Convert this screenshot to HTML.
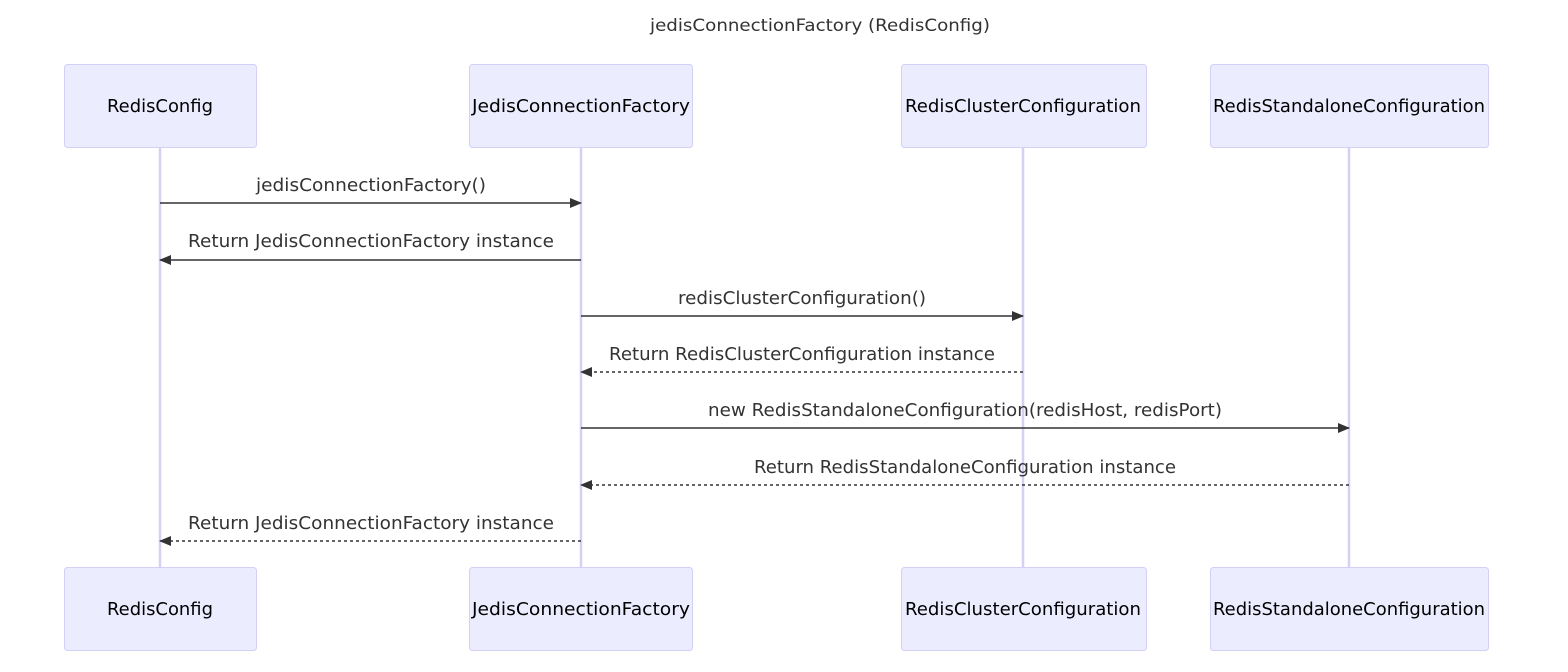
<!DOCTYPE html>
<html><head><meta charset="utf-8"><style>html,body{margin:0;padding:0;background:#fff}svg{display:block}</style></head>
<body>
<svg width="1568" height="672" viewBox="0 0 1568 672" xmlns="http://www.w3.org/2000/svg" font-family="'DejaVu Sans','Liberation Sans',sans-serif">
<defs>
<marker id="a" markerWidth="12" markerHeight="12" refX="11" refY="6" orient="auto" markerUnits="userSpaceOnUse"><path d="M0,1 L12,6 L0,11 Z" fill="#333"/></marker>
</defs>
<text x="820" y="31" text-anchor="middle" font-size="16.5" fill="#333" textLength="340" lengthAdjust="spacingAndGlyphs">jedisConnectionFactory (RedisConfig)</text>
<g stroke="#d6d0f5" stroke-width="2.5">
<line x1="160" y1="147" x2="160" y2="567"/>
<line x1="581" y1="147" x2="581" y2="567"/>
<line x1="1023" y1="147" x2="1023" y2="567"/>
<line x1="1349" y1="147" x2="1349" y2="567"/>
</g>
<g fill="#ececff" stroke="#d3cff5" stroke-width="1">
<rect x="64.5" y="64.5" width="192" height="83" rx="3"/>
<rect x="469.5" y="64.5" width="223" height="83" rx="3"/>
<rect x="901.5" y="64.5" width="245" height="83" rx="3"/>
<rect x="1210.5" y="64.5" width="278" height="83" rx="3"/>
<rect x="64.5" y="567.5" width="192" height="83" rx="3"/>
<rect x="469.5" y="567.5" width="223" height="83" rx="3"/>
<rect x="901.5" y="567.5" width="245" height="83" rx="3"/>
<rect x="1210.5" y="567.5" width="278" height="83" rx="3"/>
</g>
<g font-size="17.5" fill="#000" text-anchor="middle" lengthAdjust="spacingAndGlyphs">
<text x="160" y="112" textLength="106" lengthAdjust="spacingAndGlyphs">RedisConfig</text>
<text x="581" y="112" textLength="218" lengthAdjust="spacingAndGlyphs">JedisConnectionFactory</text>
<text x="1023" y="112" textLength="236" lengthAdjust="spacingAndGlyphs">RedisClusterConfiguration</text>
<text x="1349" y="112" textLength="272" lengthAdjust="spacingAndGlyphs">RedisStandaloneConfiguration</text>
<text x="160" y="615" textLength="106" lengthAdjust="spacingAndGlyphs">RedisConfig</text>
<text x="581" y="615" textLength="218" lengthAdjust="spacingAndGlyphs">JedisConnectionFactory</text>
<text x="1023" y="615" textLength="236" lengthAdjust="spacingAndGlyphs">RedisClusterConfiguration</text>
<text x="1349" y="615" textLength="272" lengthAdjust="spacingAndGlyphs">RedisStandaloneConfiguration</text>
</g>
<g stroke="#333" stroke-width="1.5" marker-end="url(#a)">
<line x1="160" y1="203" x2="581" y2="203"/>
<line x1="581" y1="260" x2="160" y2="260"/>
<line x1="581" y1="316" x2="1023" y2="316"/>
<line x1="1023" y1="372" x2="581" y2="372" stroke-dasharray="3,3"/>
<line x1="581" y1="428" x2="1349" y2="428"/>
<line x1="1349" y1="485" x2="581" y2="485" stroke-dasharray="3,3"/>
<line x1="581" y1="541" x2="160" y2="541" stroke-dasharray="3,3"/>
</g>
<g font-size="17.5" fill="#333" text-anchor="middle">
<text x="371" y="191" textLength="230" lengthAdjust="spacingAndGlyphs">jedisConnectionFactory()</text>
<text x="371" y="247" textLength="366" lengthAdjust="spacingAndGlyphs">Return JedisConnectionFactory instance</text>
<text x="802" y="304" textLength="248" lengthAdjust="spacingAndGlyphs">redisClusterConfiguration()</text>
<text x="802" y="360" textLength="386" lengthAdjust="spacingAndGlyphs">Return RedisClusterConfiguration instance</text>
<text x="965" y="416" textLength="514" lengthAdjust="spacingAndGlyphs">new RedisStandaloneConfiguration(redisHost, redisPort)</text>
<text x="965" y="473" textLength="422" lengthAdjust="spacingAndGlyphs">Return RedisStandaloneConfiguration instance</text>
<text x="371" y="529" textLength="366" lengthAdjust="spacingAndGlyphs">Return JedisConnectionFactory instance</text>
</g>
</svg>
</body></html>
